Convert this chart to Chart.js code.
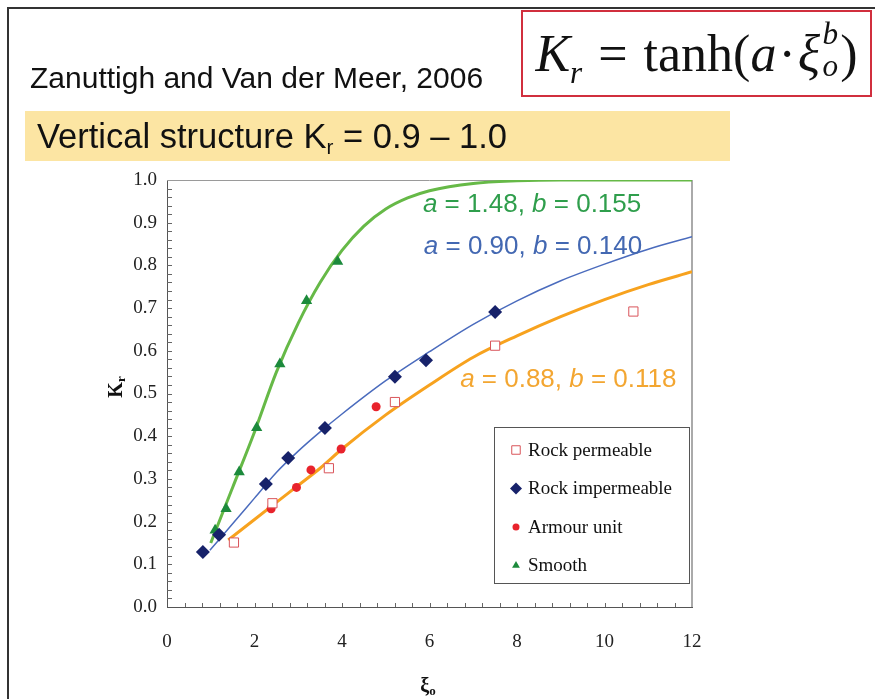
<!DOCTYPE html>
<html>
<head>
<meta charset="utf-8">
<title>Kr vs xi</title>
<script src="https://cdn.jsdelivr.net/npm/chart.js@4.4.1/dist/chart.umd.min.js"></script>
<style>
  html, body { margin: 0; padding: 0; background: #fff; }
  #slide { position: relative; width: 875px; height: 699px; overflow: hidden; background: #fff; }
  #chart { position: absolute; left: 0; top: 0; }
  .frame { position: absolute; left: 7px; top: 7px; width: 900px; height: 800px;
           border-left: 2px solid #333; border-top: 2px solid #333; }
  #author { position: absolute; left: 30px; top: 63px; font: 30px "Liberation Sans", Arial, sans-serif;
            line-height: 30px; color: #111; white-space: nowrap; }
  #banner { position: absolute; left: 25px; top: 111px; width: 705px; height: 50px; background: #fce5a3; }
  #banner span { position: absolute; left: 12px; top: 8px; font: 34.5px "Liberation Sans", Arial, sans-serif;
                 line-height: 34px; color: #111; white-space: nowrap; }
  #banner sub { font-size: 0.6em; vertical-align: -0.3em; }
  #formula { position: absolute; left: 521px; top: 10px; width: 347px; height: 83px;
             border: 2px solid #d12f3e; font: 52px "Liberation Serif", "Times New Roman", serif;
             line-height: 83px; color: #111; white-space: nowrap; text-align: center; }
  #formula .sr { font-size: 0.6em; vertical-align: -0.4em; }
  #formula .eq { margin: 0 3px; }
  #formula .dot { margin: 0 2px; }
  #formula .stack { display: inline-block; position: relative; font-size: 0.6em; width: 0.65em; height: 0; }
  #formula .stack i { position: absolute; left: 0.08em; line-height: 1; }
  #formula .stack .up { top: -1.7em; }
  #formula .stack .dn { top: -0.68em; }
  .axt { position: absolute; font: bold 20px "Liberation Serif", "Times New Roman", serif; color: #111;
         text-align: center; line-height: 24px; height: 24px; }
  .axt sub { font-size: 0.65em; vertical-align: -0.25em; }
  #ytitle { left: 95px; top: 375px; width: 40px; transform: rotate(-90deg); }
  #xtitle { left: 398px; top: 673px; width: 60px; }
</style>
</head>
<body>
<div id="slide">
  <canvas id="chart" width="875" height="699"></canvas>
  <div class="frame"></div>
  <div id="author">Zanuttigh and Van der Meer, 2006</div>
  <div id="banner"><span>Vertical structure K<sub>r</sub> = 0.9 – 1.0</span></div>
  <div id="formula"><i>K</i><span class="sr"><i>r</i></span><span class="eq">&nbsp;=&nbsp;</span>tanh(<i>a</i><span class="dot">·</span><i>ξ</i><span class="stack"><i class="up">b</i><i class="dn">o</i></span>)</div>
  <div id="ytitle" class="axt">K<sub>r</sub></div>
  <div id="xtitle" class="axt">ξ<sub>o</sub></div>
</div>
<script>
// measured points (xi_o, Kr)
const rockPermX = [1.53, 2.41, 3.70, 5.21, 7.50, 10.66];
const rockPermY = [0.151, 0.243, 0.325, 0.480, 0.612, 0.692];
const rockImpX = [0.82, 1.19, 2.26, 2.77, 3.61, 5.21, 5.92, 7.50];
const rockImpY = [0.129, 0.169, 0.288, 0.349, 0.419, 0.539, 0.578, 0.691];
const armourX = [2.38, 2.96, 3.29, 3.98, 4.78];
const armourY = [0.230, 0.280, 0.321, 0.370, 0.469];
const smoothX = [1.10, 1.35, 1.65, 2.05, 2.58, 3.19, 3.90];
const smoothY = [0.180, 0.230, 0.316, 0.420, 0.569, 0.717, 0.809];

// fitted curves, sampled along each line
const smoothFitX = [1.0, 1.5, 2.0, 2.5, 3.0, 3.5, 4.0, 4.5, 5.0, 5.5, 6.0, 7.0, 8.0, 9.0, 12.0];
const smoothFitY = [0.150, 0.280, 0.410, 0.550, 0.665, 0.760, 0.835, 0.892, 0.932, 0.958, 0.975, 0.992, 0.998, 1.0, 1.0];
const impFitX = [0.98, 1.5, 2.0, 2.5, 3.0, 3.5, 4.0, 5.0, 6.0, 7.0, 8.0, 9.0, 10.0, 11.0, 12.0];
const impFitY = [0.133, 0.195, 0.255, 0.315, 0.365, 0.410, 0.452, 0.530, 0.598, 0.662, 0.717, 0.764, 0.803, 0.838, 0.867];
const permFitX = [1.4, 2.0, 2.5, 3.0, 3.5, 4.0, 5.0, 6.0, 7.0, 8.0, 9.0, 10.0, 11.0, 12.0];
const permFitY = [0.157, 0.205, 0.245, 0.285, 0.325, 0.370, 0.450, 0.520, 0.585, 0.635, 0.680, 0.720, 0.755, 0.785];

const xTickStep = 2;
const yTickStep = 0.1;

function pts(xs, ys) {
  return xs.map((x, i) => ({ x: x, y: ys[i] }));
}

// coefficient notes next to each curve
const fitNotes = [
  { x: 5.85, y: 0.941, color: '#2f9e4c', a: '1.48', b: '0.155' },
  { x: 5.87, y: 0.843, color: '#4368b2', a: '0.90', b: '0.140' },
  { x: 6.70, y: 0.532, color: '#f3a631', a: '0.88', b: '0.118' }
];

const frameTicks = {
  id: 'frameTicks',
  beforeDatasetsDraw(chart) {
    const { ctx, chartArea: a, scales: { x, y } } = chart;
    ctx.save();
    ctx.strokeStyle = '#9a9a9a';
    ctx.lineWidth = 1;
    ctx.beginPath();
    ctx.moveTo(a.left, a.top + 0.5);
    ctx.lineTo(a.right, a.top + 0.5);
    ctx.stroke();
    ctx.strokeStyle = '#aaa';
    ctx.lineWidth = 2;
    ctx.beginPath();
    ctx.moveTo(a.right, a.top);
    ctx.lineTo(a.right, a.bottom);
    ctx.stroke();
    // small inward ticks
    ctx.strokeStyle = '#666';
    ctx.lineWidth = 1;
    ctx.beginPath();
    for (let i = 1; i < 50; i++) {
      const py = Math.round(y.getPixelForValue(i * 0.02)) + 0.5;
      ctx.moveTo(a.left, py);
      ctx.lineTo(a.left + 5, py);
    }
    for (let i = 1; i < 30; i++) {
      const px = Math.round(x.getPixelForValue(i * 0.4)) + 0.5;
      ctx.moveTo(px, a.bottom);
      ctx.lineTo(px, a.bottom - 4);
    }
    ctx.stroke();
    ctx.restore();
  }
};

const noteLabels = {
  id: 'noteLabels',
  afterDatasetsDraw(chart) {
    const { ctx, scales: { x, y } } = chart;
    ctx.save();
    ctx.textBaseline = 'middle';
    fitNotes.forEach(n => {
      const parts = [['a', true], [' = ' + n.a + ', ', false], ['b', true], [' = ' + n.b, false]];
      let px = x.getPixelForValue(n.x);
      const py = y.getPixelForValue(n.y);
      ctx.fillStyle = n.color;
      parts.forEach(([t, it]) => {
        ctx.font = (it ? 'italic ' : '') + '26px "Liberation Sans", Arial, sans-serif';
        ctx.fillText(t, px, py);
        px += ctx.measureText(t).width;
      });
    });
    ctx.restore();
  }
};

const boxLegend = {
  id: 'boxLegend',
  afterDraw(chart) {
    const { ctx, chartArea: a } = chart;
    const w = 195, h = 156;
    const left = Math.round(a.right - w - 3), top = Math.round(a.bottom - h - 24);
    ctx.save();
    ctx.fillStyle = '#fff';
    ctx.fillRect(left, top, w, h);
    ctx.strokeStyle = '#555';
    ctx.lineWidth = 1;
    ctx.strokeRect(left + 0.5, top + 0.5, w, h);
    const items = chart.data.datasets.filter(d => !d.showLine);
    items.forEach((d, i) => {
      const cy = top + 23 + i * 38.5;
      ctx.fillStyle = d.backgroundColor;
      ctx.strokeStyle = d.borderColor;
      ctx.lineWidth = d.borderWidth;
      Chart.helpers.drawPoint(ctx, { pointStyle: d.pointStyle, radius: d.legendRadius, borderWidth: d.borderWidth, rotation: 0 }, left + 22, cy);
      ctx.fillStyle = '#111';
      ctx.font = '19px "Liberation Serif", "Times New Roman", serif';
      ctx.textBaseline = 'middle';
      ctx.fillText(d.label, left + 34, cy + 1);
    });
    ctx.restore();
  }
};

const serifTicks = { family: '"Liberation Serif", "Times New Roman", serif', size: 19 };

new Chart(document.getElementById('chart'), {
  type: 'scatter',
  data: {
    datasets: [
      { label: 'Rock permeable', data: pts(rockPermX, rockPermY), pointStyle: 'rect', pointRadius: 6.5, legendRadius: 6,
        backgroundColor: '#fff', borderColor: '#d9545a', borderWidth: 1, order: 1 },
      { label: 'Rock impermeable', data: pts(rockImpX, rockImpY), pointStyle: 'rectRot', pointRadius: 7, legendRadius: 6,
        backgroundColor: '#17226a', borderColor: '#17226a', borderWidth: 0, order: 1 },
      { label: 'Armour unit', data: pts(armourX, armourY), pointStyle: 'circle', pointRadius: 4.5, legendRadius: 3.5,
        backgroundColor: '#e8232c', borderColor: '#e8232c', borderWidth: 0, order: 1 },
      { label: 'Smooth', data: pts(smoothX, smoothY), pointStyle: 'triangle', pointRadius: 6.5, legendRadius: 4.5,
        backgroundColor: '#1c8a3c', borderColor: '#1c8a3c', borderWidth: 0, order: 1 },
      { label: 'Smooth fit', data: pts(smoothFitX, smoothFitY), showLine: true, pointRadius: 0,
        borderColor: '#66b947', borderWidth: 3, cubicInterpolationMode: 'monotone', order: 2 },
      { label: 'Rock impermeable fit', data: pts(impFitX, impFitY), showLine: true, pointRadius: 0,
        borderColor: '#4a6bbd', borderWidth: 1.5, cubicInterpolationMode: 'monotone', order: 2 },
      { label: 'Rock permeable fit', data: pts(permFitX, permFitY), showLine: true, pointRadius: 0,
        borderColor: '#f7a21e', borderWidth: 3, cubicInterpolationMode: 'monotone', order: 2 }
    ]
  },
  options: {
    responsive: false,
    animation: false,
    layout: { padding: { left: 0, top: 180, right: 183, bottom: 0 } },
    scales: {
      x: {
        type: 'linear', min: 0, max: 12,
        afterFit(s) { s.height = 92; },
        ticks: { stepSize: xTickStep, padding: 24, color: '#222', font: serifTicks },
        grid: { display: false, drawTicks: false },
        border: { display: true, color: '#555', width: 1 }
      },
      y: {
        type: 'linear', min: 0, max: 1,
        afterFit(s) { s.width = 167; },
        ticks: { stepSize: yTickStep, padding: 10, color: '#222', font: serifTicks, callback: v => v.toFixed(1) },
        grid: { display: false, drawTicks: false },
        border: { display: true, color: '#555', width: 1 }
      }
    },
    plugins: { legend: { display: false }, tooltip: { enabled: false } }
  },
  plugins: [frameTicks, noteLabels, boxLegend]
});
</script>
</body>
</html>
